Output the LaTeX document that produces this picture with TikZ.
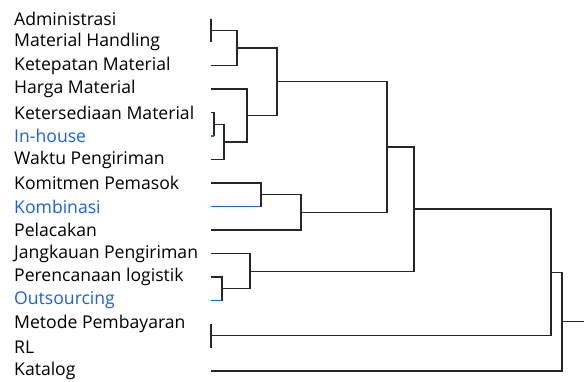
\documentclass[tikz,border=0pt]{standalone}
\usepackage{fontspec}
\setmainfont{Open Sans}
\definecolor{lblblue}{RGB}{28,98,214}
\begin{document}
\begin{tikzpicture}[x=1pt,y=-1pt,
  lbl/.style={anchor=west,inner sep=0pt,font=\fontsize{17.6}{20}\selectfont},
  blbl/.style={lbl,text=lblblue},
  link/.style={line width=1.2pt,black!85},
  blink/.style={line width=1.2pt,lblblue}]
\useasboundingbox (0,0) rectangle (584,381);
% labels
\node[lbl]  (t1)  at (14,18.5)  {Administrasi};
\node[lbl]  (t2)  at (14,42)    {Material Handling};
\node[lbl]  (t3)  at (14,65.5)  {Ketepatan Material};
\node[lbl]  (t4)  at (14,89)    {Harga Material};
\node[lbl]  (t5)  at (14,112.5) {Ketersediaan Material};
\node[blbl] (t6)  at (14,136)   {In-house};
\node[lbl]  (t7)  at (14,159.5) {Waktu Pengiriman};
\node[lbl]  (t8)  at (14,183)   {Komitmen Pemasok};
\node[blbl] (t9)  at (14,206.5) {Kombinasi};
\node[lbl]  (t10) at (14,230)   {Pelacakan};
\node[lbl]  (t11) at (14,253.5) {Jangkauan Pengiriman};
\node[lbl]  (t12) at (14,277)   {Perencanaan logistik};
\node[blbl] (t13) at (14,300.5) {Outsourcing};
\node[lbl]  (t14) at (14,324)   {Metode Pembayaran};
\node[lbl]  (t15) at (14,347.5) {RL};
\node[lbl]  (t16) at (14,371)   {Katalog};
% leaf ends
\coordinate (L1)  at (211,18.5);
\coordinate (L2)  at (211,42);
\coordinate (L3)  at (211,65.5);
\coordinate (L4)  at (211,89);
\coordinate (L5)  at (211,112.5);
\coordinate (L6)  at (211,136);
\coordinate (L7)  at (211,159.5);
\coordinate (L8)  at (211,183);
\coordinate (L9)  at (211,206.5);
\coordinate (L10) at (211,230);
\coordinate (L11) at (211,253.5);
\coordinate (L12) at (211,277);
\coordinate (L13) at (211,300.5);
\coordinate (L14) at (211,324);
\coordinate (L15) at (211,347.5);
\coordinate (L16) at (211,371);
% merge points
\coordinate (m1)  at (211,30.25);
\coordinate (m2)  at (237,47.9);
\coordinate (m3)  at (214,124.25);
\coordinate (m4)  at (224,141.9);
\coordinate (m5)  at (247,115.4);
\coordinate (m6)  at (277,81.6);
\coordinate (m7)  at (261,194.75);
\coordinate (m8)  at (301,212.4);
\coordinate (m9)  at (387,147);
\coordinate (m10) at (222,288.75);
\coordinate (m11) at (250,271.1);
\coordinate (m12) at (414,209);
\coordinate (m13) at (211,335.75);
\coordinate (m14) at (551,272.4);
\coordinate (m15) at (562,321.7);
\coordinate (root) at (584,321.7);
% links
\draw[link] (L1) -| (m1) |- (L2);
\draw[link] (m1) -| (m2) |- (L3);
\draw[link] (L5) -| (m3) -- (m3 |- L6);
\draw[blink] (L6) -- (L6 -| m3);
\draw[link] (m3) -| (m4) |- (L7);
\draw[link] (L4) -| (m5) |- (m4);
\draw[link] (m2) -| (m6) |- (m5);
\draw[link] (L8) -| (m7) -- (m7 |- L9);
\draw[blink] (L9) -- (L9 -| m7);
\draw[link] (m7) -| (m8) |- (L10);
\draw[link] (m6) -| (m9) |- (m8);
\draw[link] (L12) -| (m10) -- (m10 |- L13);
\draw[blink] (L13) -- (L13 -| m10);
\draw[link] (L11) -| (m11) |- (m10);
\draw[link] (m9) -| (m12) |- (m11);
\draw[link] (L14) -| (m13) |- (L15);
\draw[link] (m12) -| (m14) |- (m13);
\draw[link] (m14) -| (m15) |- (L16);
\draw[link] (m15) -- (root);
\end{tikzpicture}
\end{document}
